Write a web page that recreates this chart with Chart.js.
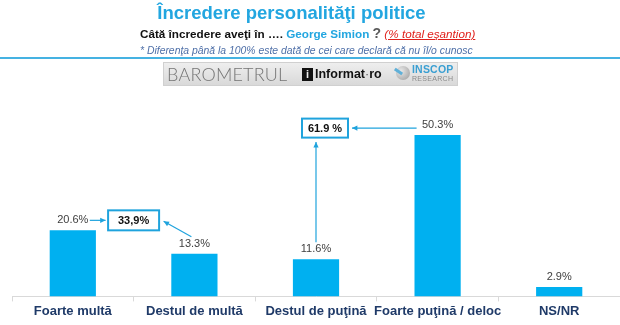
<!DOCTYPE html>
<html>
<head>
<meta charset="utf-8">
<script src="https://cdn.jsdelivr.net/npm/chart.js@4"></script>
<style>
  html, body { margin: 0; padding: 0; background: #fff; }
  body { width: 620px; height: 325px; position: relative; overflow: hidden; font-family: Arial, "Liberation Sans", sans-serif; }
  #title { position: absolute; left: 0; width: 583px; top: 2px; text-align: center; font-size: 18.5px; font-weight: bold; color: #22a6e0; white-space: nowrap; }
  #subtitle { position: absolute; left: 140px; top: 25px; font-size: 11.7px; font-weight: bold; color: #111; white-space: nowrap; }
  #subtitle .name { color: #22a6e0; }
  #subtitle .q { color: #5a5a5a; font-size: 14px; }
  #subtitle .tot { color: #e0201b; font-weight: normal; font-style: italic; text-decoration: underline; }
  #note { position: absolute; left: 140px; top: 45px; font-size: 10.4px; font-style: italic; color: #4e6fa8; white-space: nowrap; }
  #rule { position: absolute; left: 0; top: 57px; width: 620px; height: 2px; background: #45b2e2; }
  #logo { position: absolute; left: 163px; top: 62px; width: 295px; height: 24px; background: linear-gradient(#eeeeee, #d9d9d9); border: 1px solid #d0d0d0; box-sizing: border-box; }
  #logo .baro { position: absolute; left: 3px; top: 0px; font-family: Lato, "Open Sans", sans-serif; font-weight: 300; font-size: 18px; line-height: 22px; color: #747474; letter-spacing: 0.2px; }
  #logo .ico { position: absolute; left: 138px; top: 5px; width: 11px; height: 13px; background: #111; color: #eee; font-size: 11px; font-weight: bold; line-height: 13px; text-align: center; }
  #logo .inf { position: absolute; left: 151px; top: 4px; font-size: 12.5px; font-weight: bold; color: #111; line-height: 15px; }
  #logo .inf span { font-weight: normal; color: #555; }
  #logo .circ { position: absolute; left: 232px; top: 3px; width: 14px; height: 14px; border-radius: 50%; background: radial-gradient(circle at 35% 35%, #e8e8e8, #9a9a9a); }
  #logo .circ:after { content: ""; position: absolute; left: -2px; top: 4px; width: 9px; height: 3px; background: #5fb0d8; transform: rotate(35deg); }
  #logo .ins { position: absolute; left: 248px; top: 1px; font-size: 10.5px; font-weight: bold; color: #3a9fd2; line-height: 11px; letter-spacing: 0.2px; }
  #logo .res { position: absolute; left: 248px; top: 12px; font-size: 7px; color: #8a8a8a; line-height: 8px; letter-spacing: 0.3px; }
  #chart { position: absolute; left: 0; top: 0; }
</style>
</head>
<body>
<canvas id="chart" width="620" height="325"></canvas>
<div id="title">Încredere personalităţi politice</div>
<div id="subtitle">Câtă încredere aveţi în …. <span class="name">George Simion</span> <span class="q">?</span> <span class="tot">(% total eşantion)</span></div>
<div id="note">* Diferenţa până la 100% este dată de cei care declară că nu îl/o cunosc</div>
<div id="rule"></div>
<div id="logo">
  <div class="baro">BAROMETRUL</div>
  <div class="ico">i</div>
  <div class="inf">Informat<span>·</span>ro</div>
  <div class="circ"></div>
  <div class="ins">INSCOP</div>
  <div class="res">RESEARCH</div>
</div>
<script>
const categories = ['Foarte multă', 'Destul de multă', 'Destul de puţină', 'Foarte puţină / deloc', 'NS/NR'];
const values = [20.6, 13.3, 11.6, 50.3, 2.9];
const totalTrust = '33,9%';
const totalDistrust = '61.9 %';

const blue = '#00b0f0';
const arrowBlue = '#1fa3dd';

function arrow(ctx, x1, y1, x2, y2) {
    const a = Math.atan2(y2 - y1, x2 - x1);
    ctx.beginPath();
    ctx.moveTo(x1, y1);
    ctx.lineTo(x2, y2);
    ctx.stroke();
    ctx.beginPath();
    ctx.moveTo(x2, y2);
    ctx.lineTo(x2 - 6 * Math.cos(a - 0.45), y2 - 6 * Math.sin(a - 0.45));
    ctx.lineTo(x2 - 6 * Math.cos(a + 0.45), y2 - 6 * Math.sin(a + 0.45));
    ctx.closePath();
    ctx.fill();
}

function box(ctx, cx, cy, w, h, text) {
    ctx.strokeStyle = arrowBlue;
    ctx.lineWidth = 2;
    ctx.strokeRect(cx - w / 2, cy - h / 2, w, h);
    ctx.fillStyle = '#111';
    ctx.font = 'bold 11px "Liberation Sans", Arial';
    ctx.textAlign = 'center';
    ctx.textBaseline = 'middle';
    ctx.fillText(text, cx, cy + 1);
}

// values above the bars + the two callouts
const labelsPlugin = {
    id: 'labels',
    afterDatasetsDraw(chart) {
        const ctx = chart.ctx;
        const meta = chart.getDatasetMeta(0);
        const x = chart.scales.x, y = chart.scales.y;
        ctx.save();
        ctx.font = '11px "Liberation Sans", Arial';
        ctx.fillStyle = '#404040';
        ctx.textAlign = 'center';
        ctx.textBaseline = 'middle';
        meta.data.forEach((bar, i) => {
            ctx.fillText(values[i].toFixed(1) + '%', bar.x, bar.y - 10);
        });

        // 33,9% callout
        const b1x = x.getPixelForValue(0.5), b1y = y.getPixelForValue(values[0]) - 10;
        box(ctx, b1x, b1y, 51, 20, totalTrust);
        ctx.strokeStyle = arrowBlue;
        ctx.fillStyle = arrowBlue;
        ctx.lineWidth = 1.2;
        arrow(ctx, meta.data[0].x + 17, b1y, b1x - 28, b1y);
        arrow(ctx, meta.data[1].x - 3, meta.data[1].y - 17, b1x + 30, b1y + 1);

        // 61.9 % callout
        const b2x = meta.data[2].x + 9, b2y = meta.data[3].y - 7;
        box(ctx, b2x, b2y, 46, 19, totalDistrust);
        ctx.strokeStyle = arrowBlue;
        ctx.fillStyle = arrowBlue;
        ctx.lineWidth = 1.2;
        arrow(ctx, meta.data[3].x - 21, b2y, b2x + 27, b2y);
        arrow(ctx, meta.data[2].x, meta.data[2].y - 17, meta.data[2].x, b2y + 14);
        ctx.restore();
    }
};

new Chart(document.getElementById('chart').getContext('2d'), {
    type: 'bar',
    data: {
        labels: categories,
        datasets: [{
            data: values,
            backgroundColor: blue,
            barPercentage: 0.38,
            categoryPercentage: 1
        }]
    },
    options: {
        responsive: false,
        animation: false,
        layout: { padding: { top: 104, left: 12, right: 0, bottom: 4 } },
        plugins: { legend: { display: false }, tooltip: { enabled: false } },
        scales: {
            x: {
                grid: { drawOnChartArea: false, drawTicks: true, tickLength: 5, color: '#d9d9d9' },
                border: { color: '#d9d9d9' },
                ticks: {
                    padding: 2,
                    color: '#1f3a68',
                    font: { family: '"Liberation Sans", Arial', size: 13, weight: 'bold' },
                    maxRotation: 0, autoSkip: false
                }
            },
            y: { display: false, min: 0, max: 60 }
        }
    },
    plugins: [labelsPlugin]
});
</script>
</body>
</html>
